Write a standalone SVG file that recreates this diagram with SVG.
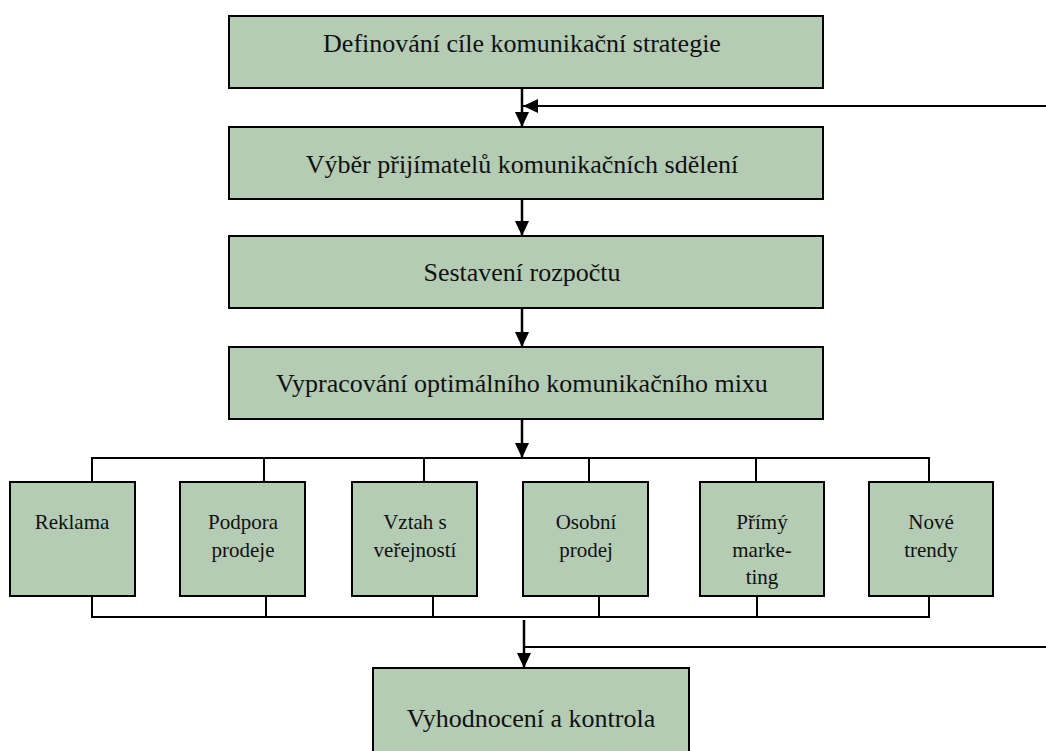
<svg xmlns="http://www.w3.org/2000/svg" width="1046" height="751" viewBox="0 0 1046 751">
<defs>
<style>
.box{fill:#b4cbb4;stroke:#000;stroke-width:2}
.t{font-family:"Liberation Serif","Times New Roman",serif;fill:#111;text-anchor:middle}
.big{font-size:26px}
.small{font-size:21px}
.ln{fill:none;stroke:#000;stroke-width:2}
.arr{fill:none;stroke:#000;stroke-width:2.5}
</style>
<marker id="ah" markerUnits="userSpaceOnUse" markerWidth="16" markerHeight="16" viewBox="0 0 16 16" refX="15" refY="8" orient="auto">
<path d="M0,1 L15,8 L0,15 Z" fill="#000"/>
</marker>
</defs>
<rect width="1046" height="751" fill="#fff"/>
<g id="connectors">
<line class="arr" x1="522" y1="88" x2="522" y2="127" marker-end="url(#ah)"/>
<line class="ln" x1="1046" y1="106" x2="523" y2="106" marker-end="url(#ah)"/>
<line class="arr" x1="522" y1="199" x2="522" y2="236" marker-end="url(#ah)"/>
<line class="arr" x1="522" y1="308" x2="522" y2="347" marker-end="url(#ah)"/>
<line class="arr" x1="522" y1="419" x2="522" y2="458" marker-end="url(#ah)"/>
<path class="ln" d="M92,482 V458 H929 V482 M264,458 V482 M424,458 V482 M589,458 V482 M756,458 V482"/>
<path class="ln" d="M92,596 V617 H929 V596 M266,596 V617 M433,596 V617 M599,596 V617 M757,596 V617"/>
<line class="arr" x1="524" y1="620" x2="524" y2="668" marker-end="url(#ah)"/>
<line class="ln" x1="524" y1="647" x2="1046" y2="647"/>
</g>
<g id="n1"><rect class="box" x="229" y="16" width="594" height="72"/><text class="t big" x="522" y="52">Definování cíle komunikační strategie</text></g>
<g id="n2"><rect class="box" x="229" y="127" width="594" height="72"/><text class="t big" x="522" y="173">Výběr přijímatelů komunikačních sdělení</text></g>
<g id="n3"><rect class="box" x="229" y="236" width="594" height="72"/><text class="t big" x="522" y="281">Sestavení rozpočtu</text></g>
<g id="n4"><rect class="box" x="229" y="347" width="594" height="72"/><text class="t big" x="522" y="392">Vypracování optimálního komunikačního mixu</text></g>
<g id="n5"><rect class="box" x="10" y="482" width="125" height="114"/><text class="t small" x="72" y="529">Reklama</text></g>
<g id="n6"><rect class="box" x="180" y="482" width="125" height="114"/><text class="t small" x="243" y="529">Podpora</text><text class="t small" x="243" y="557">prodeje</text></g>
<g id="n7"><rect class="box" x="352" y="482" width="125" height="114"/><text class="t small" x="415" y="529">Vztah s</text><text class="t small" x="415" y="557">veřejností</text></g>
<g id="n8"><rect class="box" x="523" y="482" width="125" height="114"/><text class="t small" x="586" y="529">Osobní</text><text class="t small" x="586" y="557">prodej</text></g>
<g id="n9"><rect class="box" x="700" y="482" width="124" height="114"/><text class="t small" x="762" y="529">Přímý</text><text class="t small" x="762" y="557">marke-</text><text class="t small" x="762" y="584">ting</text></g>
<g id="n10"><rect class="box" x="869" y="482" width="124" height="114"/><text class="t small" x="931" y="529">Nové</text><text class="t small" x="931" y="557">trendy</text></g>
<g id="n11"><rect class="box" x="373" y="668" width="316" height="100"/><text class="t big" x="531" y="727">Vyhodnocení a kontrola</text></g>
</svg>
